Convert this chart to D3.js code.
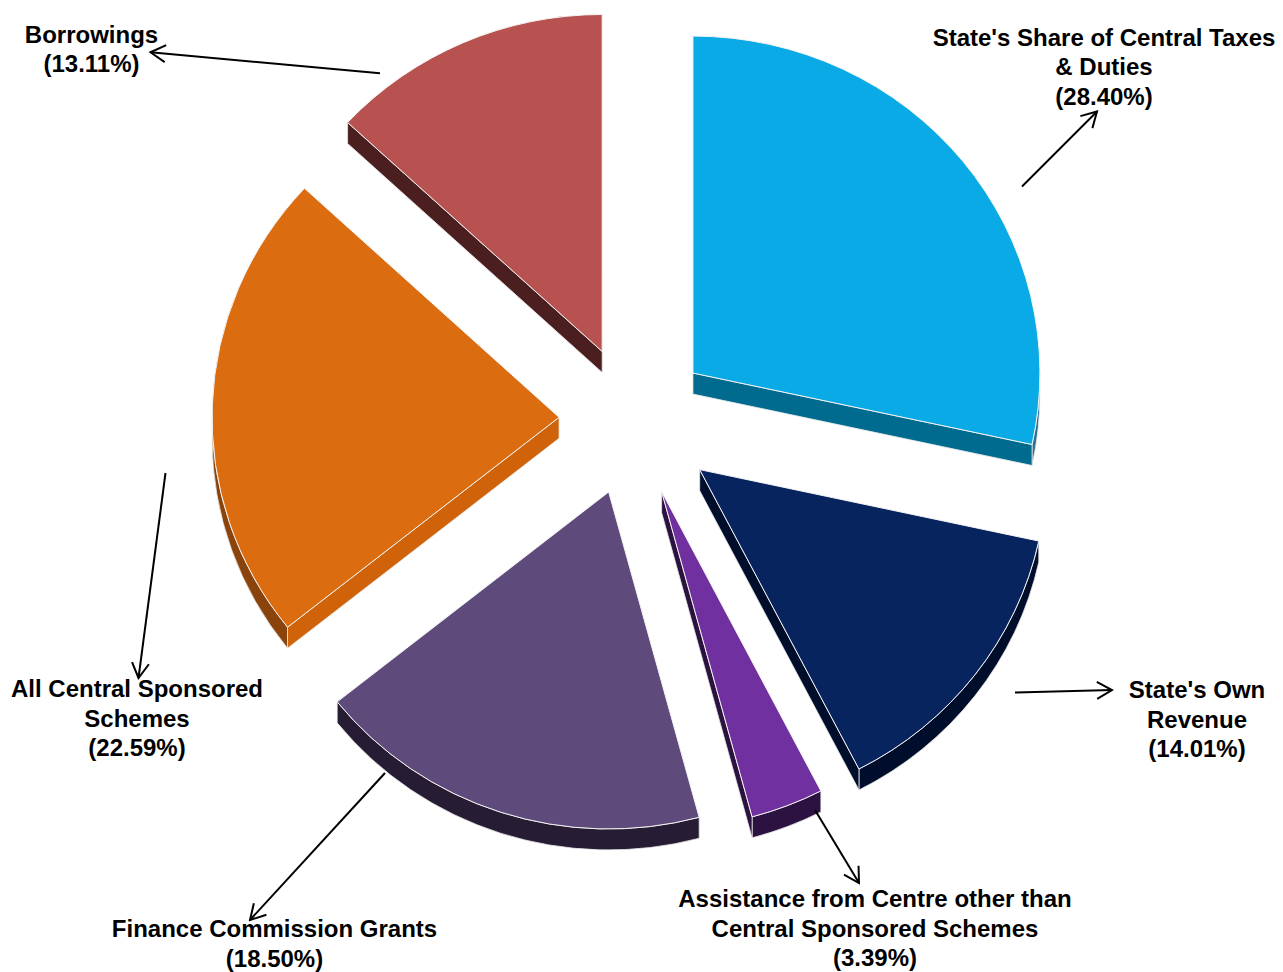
<!DOCTYPE html>
<html><head><meta charset="utf-8">
<script src="https://cdn.jsdelivr.net/npm/d3@7"></script>
<style>body{margin:0;background:#fff}svg{display:block}</style>
</head><body>
<svg id="chart" width="1283" height="972"></svg>
<script>
// ---- data ----
const categories = [
  "State's Share of Central Taxes & Duties",
  "State's Own Revenue",
  "Assistance from Centre other than Central Sponsored Schemes",
  "Finance Commission Grants",
  "All Central Sponsored Schemes",
  "Borrowings"
];
const values = [28.40, 14.01, 3.39, 18.50, 22.59, 13.11];
const labelLines = [
  ["State's Share of Central Taxes", "& Duties"],
  ["State's Own", "Revenue"],
  ["Assistance from Centre other than", "Central Sponsored Schemes"],
  ["Finance Commission Grants"],
  ["All Central Sponsored", "Schemes"],
  ["Borrowings"]
];

// ---- styles ----
const topColors    = ["#0AAAE6", "#08245F", "#7030A0", "#5F4B7B", "#DB6C10", "#B85250"];
const radialColors = ["#006B8F", "#000D2B", "#2C1240", "#261C34", "#D06209", "#4B1F20"];
const outerColors  = ["#2A7193", "#000D2B", "#2C1240", "#261C34", "#8A430B", "#4B1F20"];
const explodeDist  = [77, 84, 79, 78, 74, 77];

// ---- layout ----
const W = 1283, H = 972;
const cx = 633, cy = 420, rx = 347, ry = 337, depth = 21;
const k = ry / rx;
const labelPos = [
  {x: 1104, y: 45.5}, {x: 1197, y: 698}, {x: 875, y: 907},
  {x: 274.5, y: 937}, {x: 137, y: 697}, {x: 91.5, y: 42.5}
];
const arrows = [
  {x1: 1022, y1: 186.5, x2: 1097, y2: 111.5},
  {x1: 1015, y1: 692.5, x2: 1112, y2: 690},
  {x1: 815, y1: 810, x2: 859, y2: 883},
  {x1: 385, y1: 773, x2: 250, y2: 920},
  {x1: 165.5, y1: 473, x2: 138.5, y2: 678},
  {x1: 380, y1: 73.3, x2: 150.5, y2: 52.3}
];
const lineH = 29.5;

const svg = d3.select("#chart");

const defs = svg.append("defs");
defs.append("marker")
  .attr("id", "vhead").attr("markerUnits", "userSpaceOnUse")
  .attr("viewBox", "-17 -10 19 20").attr("refX", 0).attr("refY", 0)
  .attr("markerWidth", 19).attr("markerHeight", 20).attr("orient", "auto")
  .append("path").attr("d", "M-15,-8.5L0,0L-15,8.5")
  .attr("fill", "none").attr("stroke", "#000").attr("stroke-width", 2);

const pie = d3.pie().sort(null).value(d => d);
const arcs = pie(values);

function pt(a, ox, oy, dz = 0) {
  return [ox + rx * Math.sin(a), oy - ry * Math.cos(a) + dz];
}

const slices = arcs.map((d, i) => {
  const mid = (d.startAngle + d.endAngle) / 2;
  const ed = explodeDist[i];
  const ox = cx + ed * Math.sin(mid);
  const oy = cy - ed * k * Math.cos(mid);
  return {d, i, ox, oy};
});

const gWalls = svg.append("g");
const gTops = svg.append("g");

slices.forEach(s => {
  const {d, i, ox, oy} = s;
  const a0 = d.startAngle, a1 = d.endAngle;
  const apex = [ox, oy];
  // outer wall
  const w0 = Math.max(a0, Math.PI / 2), w1 = Math.min(a1, 3 * Math.PI / 2);
  if (w1 > w0) {
    const p0 = pt(w0, ox, oy), p1 = pt(w1, ox, oy);
    const q0 = pt(w0, ox, oy, depth), q1 = pt(w1, ox, oy, depth);
    const large = (w1 - w0) > Math.PI ? 1 : 0;
    const path = `M${p0}A${rx},${ry} 0 ${large} 1 ${p1}L${q1}A${rx},${ry} 0 ${large} 0 ${q0}Z`;
    gWalls.append("path").attr("d", path).attr("fill", outerColors[i])
      .attr("stroke", "#e8e8e8").attr("stroke-width", 0.8).attr("stroke-linejoin", "round");
  }
  // radial walls
  const radial = (a) => {
    const p = pt(a, ox, oy), q = pt(a, ox, oy, depth);
    const path = `M${apex}L${p}L${q}L${[apex[0], apex[1] + depth]}Z`;
    gWalls.append("path").attr("d", path).attr("fill", radialColors[i])
      .attr("stroke", "#e8e8e8").attr("stroke-width", 0.8).attr("stroke-linejoin", "round");
  };
  if (Math.sin(a1) > 1e-6) radial(a1);
  if (Math.sin(a0) < -1e-6) radial(a0);
  // top face
  const p0 = pt(a0, ox, oy), p1 = pt(a1, ox, oy);
  const large = (a1 - a0) > Math.PI ? 1 : 0;
  gTops.append("path")
    .attr("d", `M${apex}L${p0}A${rx},${ry} 0 ${large} 1 ${p1}Z`)
    .attr("fill", topColors[i])
    .attr("stroke", "#f4f4f4").attr("stroke-width", 1).attr("stroke-linejoin", "round");
});

// arrows
svg.append("g").selectAll("line").data(arrows).join("line")
  .attr("x1", d => d.x1).attr("y1", d => d.y1)
  .attr("x2", d => d.x2).attr("y2", d => d.y2)
  .attr("stroke", "#000").attr("stroke-width", 2)
  .attr("marker-end", "url(#vhead)");

// labels
const gLab = svg.append("g")
  .attr("font-family", "'Liberation Sans', Arial, sans-serif")
  .attr("font-weight", "bold").attr("font-size", 24)
  .attr("fill", "#000").attr("text-anchor", "middle");

arcs.forEach((d, i) => {
  const lines = labelLines[i].concat([`(${values[i].toFixed(2)}%)`]);
  const t = gLab.append("text");
  lines.forEach((ln, j) => {
    t.append("tspan").attr("x", labelPos[i].x).attr("y", labelPos[i].y + j * lineH).text(ln);
  });
});
</script>
</body></html>
